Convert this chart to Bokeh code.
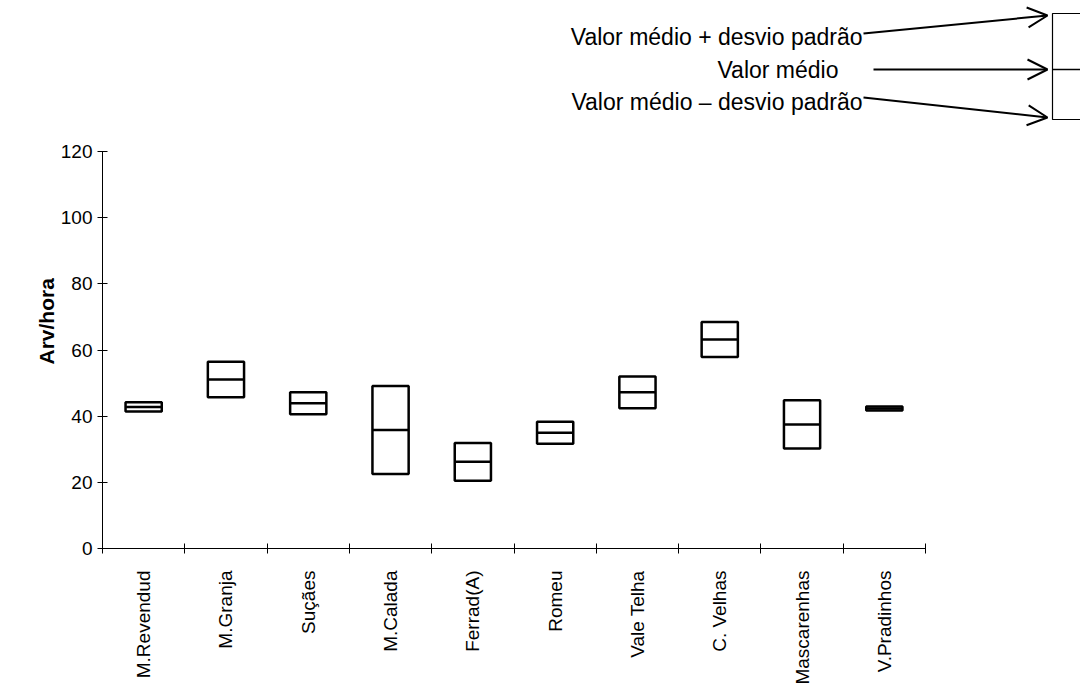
import math
from bokeh.plotting import figure
from bokeh.models import (Range1d, FixedTicker, Title, Arrow, OpenHead)
from bokeh.core.properties import value
from bokeh.embed import file_html
from bokeh.resources import INLINE

# ---- data ----
locais = ["M.Revendud", "M.Granja", "Suçães", "M.Calada", "Ferrad(A)",
          "Romeu", "Vale Telha", "C. Velhas", "Mascarenhas", "V.Pradinhos"]
media = [42.8, 51.1, 43.9, 35.8, 26.2, 35.0, 47.2, 63.2, 37.5, 42.3]
desvio = [1.4, 5.35, 3.3, 13.3, 5.7, 3.35, 4.8, 5.3, 7.3, 0.6]
y_ticks = [0, 20, 40, 60, 80, 100, 120]
y_label = "Arv/hora"
legend_texts = ["Valor médio + desvio padrão", "Valor médio", "Valor médio \u2013 desvio padrão"]

FONT = "Liberation Sans"
n = len(locais)
centers = [i + 0.5 for i in range(n)]
half_w = 0.22
upper = [m + d for m, d in zip(media, desvio)]
lower = [m - d for m, d in zip(media, desvio)]

px_per_cat = 82.3
px_per_unit = (548 - 151) / 120.0
frame_w = 978
frame_h = 548

p = figure(width=1080, height=690, output_backend="svg", toolbar_location=None,
           x_range=Range1d(0, frame_w / px_per_cat),
           y_range=Range1d(0, frame_h / px_per_unit),
           min_border_left=102, min_border_right=0, min_border_top=0,
           min_border_bottom=142)
p.outline_line_color = None
p.xgrid.visible = False
p.ygrid.visible = False
p.background_fill_color = "white"
p.border_fill_color = "white"

# y axis
ya = p.yaxis[0]
ya.ticker = FixedTicker(ticks=y_ticks)
ya.bounds = (0, 120)
ya.major_tick_in = 5
ya.major_tick_out = 5
ya.minor_tick_line_color = None
ya.major_label_standoff = 5
ya.major_label_text_font = FONT
ya.major_label_text_font_size = "19px"
ya.major_label_text_color = "black"
ya.axis_line_color = "black"
ya.major_tick_line_color = "black"

# x axis
xa = p.xaxis[0]
xa.ticker = FixedTicker(ticks=centers, minor_ticks=list(range(n + 1)))
xa.bounds = (0, n)
xa.major_tick_line_color = None
xa.major_tick_in = 0
xa.major_tick_out = 0
xa.minor_tick_in = 5
xa.minor_tick_out = 5
xa.minor_tick_line_color = "black"
xa.major_label_overrides = {c: name for c, name in zip(centers, locais)}
xa.major_label_orientation = math.pi / 2
xa.major_label_standoff = 17
xa.major_label_text_font = FONT
xa.major_label_text_font_size = "19px"
xa.major_label_text_color = "black"
xa.axis_line_color = "black"

# boxes
p.quad(left=[c - half_w for c in centers], right=[c + half_w for c in centers],
       top=upper, bottom=lower, fill_color=None, line_color="black", line_width=2.5)
p.segment(x0=[c - half_w for c in centers], x1=[c + half_w for c in centers],
          y0=media, y1=media, line_color="black", line_width=2.5)

# y axis title
p.add_layout(Title(text=y_label, align="left", offset=184, standoff=0,
                   text_font=FONT, text_font_style="bold", text_font_size="21px",
                   text_color="black"), "left")

# ---- explanatory key (top right) ----
def dx(px):
    return (px - 102) / px_per_cat

def dy(py):
    return (548 - py) / px_per_unit

p.quad(left=[dx(1052)], right=[dx(1100)], top=[dy(13)], bottom=[dy(119)],
       fill_color=None, line_color="black", line_width=1.2)
p.segment(x0=[dx(1052)], x1=[dx(1100)], y0=[dy(69)], y1=[dy(69)],
          line_color="black", line_width=1.5)

p.text(x=[dx(862), dx(838), dx(862)], y=[dy(36), dy(69), dy(101)], text=legend_texts,
       text_align="right", text_baseline="middle", text_font=value(FONT),
       text_font_size="23px", text_color="black")

for (sx, sy, ex, ey) in [(863, 33, 1047, 15), (873, 69, 1047, 69), (863, 97, 1047, 117)]:
    p.add_layout(Arrow(x_start=dx(sx), y_start=dy(sy), x_end=dx(ex), y_end=dy(ey),
                       line_color="black", line_width=2,
                       end=OpenHead(size=20, line_width=2, line_color="black")))

open("out.html", "w").write(file_html(p, INLINE))
